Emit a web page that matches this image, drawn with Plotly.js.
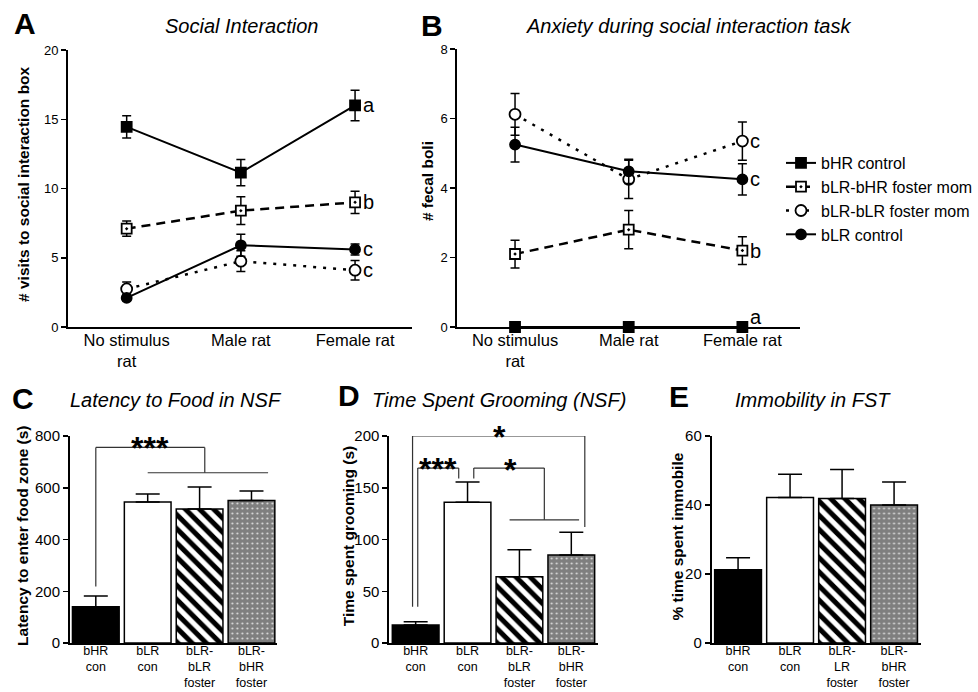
<!DOCTYPE html>
<html><head><meta charset="utf-8">
<script src="https://cdn.plot.ly/plotly-3.0.1.min.js"></script>
<style>html,body{margin:0;padding:0;background:#fff}#chart{width:978px;height:692px}</style>
</head><body><div id="chart"></div>
<script>
// ---------- DATA ----------
const lineCats = ["No stimulus<br>rat", "Male rat", "Female rat"];
const seriesNames = ["bHR control", "bLR-bHR foster mom", "bLR-bLR foster mom", "bLR control"];

// Panel A: # visits to social interaction box
const socialBHR = [14.45, 11.15, 16.0];
const socialBHRerr = [0.8, 0.95, 1.1];
const socialFosterBHR = [7.1, 8.4, 9.0];
const socialFosterBHRerr = [0.55, 1.0, 0.8];
const socialFosterBLR = [2.75, 4.75, 4.1];
const socialFosterBLRerr = [0.5, 0.75, 0.7];
const socialBLR = [2.1, 5.9, 5.6];
const socialBLRerr = [0.2, 0.8, 0.4];
const socialLetters = ["a", "b", "c", "c"];

// Panel B: # fecal boli
const boliBHR = [0, 0, 0];
const boliBHRerr = [0, 0, 0];
const boliFosterBHR = [2.1, 2.8, 2.2];
const boliFosterBHRerr = [0.4, 0.55, 0.4];
const boliFosterBLR = [6.12, 4.25, 5.35];
const boliFosterBLRerr = [0.6, 0.55, 0.55];
const boliBLR = [5.25, 4.48, 4.25];
const boliBLRerr = [0.5, 0.35, 0.45];
const boliLetters = ["a", "b", "c", "c"];

// Bar panels
const barCats = ["bHR<br>con", "bLR<br>con", "bLR-<br>bLR<br>foster", "bLR-<br>bHR<br>foster"];
const barCatsE = ["bHR<br>con", "bLR<br>con", "bLR-<br>LR<br>foster", "bLR-<br>bHR<br>foster"];
const latency = [140, 545, 518, 551];
const latencyErr = [42, 31, 85, 36];
const grooming = [17.5, 136, 64, 85];
const groomingErr = [3, 19.5, 26, 22];
const immobility = [21.2, 42.2, 41.9, 40.0];
const immobilityErr = [3.5, 6.7, 8.4, 6.7];

// significance brackets: [x0, y0, x1, y1] in category/data units
const sigC = [[0, 218, 0, 756], [0, 756, 2.1, 756], [2.1, 756, 2.1, 658], [1.0, 658, 3.32, 658]];
const sigCText = [{x: 1.04, y: 781, t: "***"}];
const sigD = [[-0.06, 35, -0.06, 200], [-0.06, 200, 3.26, 200], [3.26, 200, 3.26, 112],
              [0.04, 35, 0.04, 169], [0.04, 169, 0.83, 169], [0.83, 169, 0.83, 159],
              [1.12, 159, 1.12, 169], [1.12, 169, 2.48, 169], [2.48, 169, 2.48, 119],
              [1.81, 119, 3.15, 119]];
const sigDText = [{x: 1.61, y: 199, t: "*", dy: 0}, {x: 0.43, y: 175, t: "***", dy: -7}, {x: 1.83, y: 174, t: "*", dy: -7}];

// ---------- HELPERS ----------
const W = 978, H = 692;
const px = v => v / W;
const py = v => 1 - v / H;
const FONT = "Liberation Sans, Arial, Helvetica, sans-serif";

const styles = [
  {symbol: 'square', color: '#000', dash: 'solid', size: 10, lw: 2},
  {symbol: 'square-dot', color: '#fff', dash: '9px,6px', size: 10, lw: 2.5},
  {symbol: 'circle', color: '#fff', dash: '3px,7px', size: 11, lw: 2.5},
  {symbol: 'circle', color: '#000', dash: 'solid', size: 10, lw: 2}
];

function lineTrace(i, y, err, xa, ya, showleg) {
  const s = styles[i];
  return {
    type: 'scatter', mode: 'lines+markers', name: seriesNames[i], legendgroup: 'g' + i,
    showlegend: showleg, x: [0, 1, 2], y: y, xaxis: xa, yaxis: ya, cliponaxis: false,
    line: {color: '#000', width: s.lw, dash: s.dash},
    marker: {symbol: s.symbol, size: s.size, color: s.color, line: {color: '#000', width: 1.8}},
    error_y: {type: 'data', array: err, visible: true, color: '#000', thickness: 1.5, width: 4.5},
    hoverinfo: 'skip'
  };
}

const barStyles = [
  {color: '#000', pattern: {shape: ''}},
  {color: '#fff', pattern: {shape: ''}},
  {color: '#fff', pattern: {shape: '\\', fgcolor: '#000', bgcolor: '#fff', size: 10, solidity: 0.5, fillmode: 'replace'}},
  {color: '#7f7f7f', pattern: {shape: '.', fgcolor: '#dcdcdc', bgcolor: '#7f7f7f', size: 5, solidity: 0.14, fillmode: 'replace'}}
];

function barTraces(vals, errs, xa, ya) {
  return vals.map((v, i) => ({
    type: 'bar', x: [i], y: [v], xaxis: xa, yaxis: ya, width: 0.9, showlegend: false,
    marker: {color: barStyles[i].color, line: {color: '#000', width: 1.5}, pattern: barStyles[i].pattern},
    error_y: {type: 'data', symmetric: false, array: [errs[i]], arrayminus: [0],
              color: '#000', thickness: 1.5, width: 12},
    hoverinfo: 'skip'
  }));
}

function yax(dom, range, dtick, anchor, fs) {
  return {domain: dom, range: range, dtick: dtick, tick0: 0, anchor: anchor, showline: true,
    linecolor: '#000', linewidth: 1.8, ticks: 'outside', ticklen: 5, tickwidth: 1.5, tickcolor: '#000',
    showgrid: false, zeroline: false, tickfont: {size: fs, color: '#000', family: FONT}, fixedrange: true};
}
function xax(dom, range, tickvals, ticktext, anchor, fs, standoff) {
  return {domain: dom, range: range, tickvals: tickvals, ticktext: ticktext, anchor: anchor,
    showline: true, linecolor: '#000', linewidth: 1.8, ticks: '', showgrid: false, zeroline: false,
    ticklabelstandoff: standoff,
    tickfont: {size: fs, color: '#000', family: FONT}, fixedrange: true};
}

// ---------- TRACES ----------
const traces = [];
const aSeries = [[socialBHR, socialBHRerr], [socialFosterBHR, socialFosterBHRerr],
                 [socialFosterBLR, socialFosterBLRerr], [socialBLR, socialBLRerr]];
const bSeries = [[boliBHR, boliBHRerr], [boliFosterBHR, boliFosterBHRerr],
                 [boliFosterBLR, boliFosterBLRerr], [boliBLR, boliBLRerr]];
aSeries.forEach((s, i) => traces.push(lineTrace(i, s[0], s[1], 'x', 'y', true)));
bSeries.forEach((s, i) => traces.push(lineTrace(i, s[0], s[1], 'x2', 'y2', false)));
traces.push(...barTraces(latency, latencyErr, 'x3', 'y3'));
traces.push(...barTraces(grooming, groomingErr, 'x4', 'y4'));
traces.push(...barTraces(immobility, immobilityErr, 'x5', 'y5'));

// ---------- ANNOTATIONS ----------
const ann = [];
function paperText(x, y, text, size, opts) {
  ann.push(Object.assign({xref: 'paper', yref: 'paper', x: px(x), y: py(y), text: text,
    showarrow: false, xanchor: 'center', yanchor: 'middle',
    font: {family: FONT, size: size, color: '#000'}}, opts || {}));
}
// panel letters
[["A", 25, 24], ["B", 433, 25], ["C", 23, 398], ["D", 350, 395], ["E", 680, 397]].forEach(l =>
  paperText(l[1], l[2], "<b>" + l[0] + "</b>", 30));
// titles
paperText(242, 26, "<i>Social Interaction</i>", 20);
paperText(690, 26, "<i>Anxiety during social interaction task</i>", 20);
paperText(176, 400, "<i>Latency to Food in NSF</i>", 20);
paperText(500, 400, "<i>Time Spent Grooming (NSF)</i>", 20);
paperText(815, 400, "<i>Immobility in FST</i>", 20);
// y titles
paperText(24, 184, "<b># visits to social interaction box</b>", 15.5, {textangle: -90});
paperText(428, 181, "<b># fecal boli</b>", 15.5, {textangle: -90});
paperText(22, 536, "<b>Latency to enter food zone (s)</b>", 15.5, {textangle: -90});
paperText(349, 536, "<b>Time spent grooming (s)</b>", 15.5, {textangle: -90});
paperText(678, 537, "<b>% time spent immobile</b>", 15.5, {textangle: -90});

// group letters
aSeries.forEach((s, i) => ann.push({xref: 'x', yref: 'y', x: 2, y: s[0][2], text: socialLetters[i],
  showarrow: false, xanchor: 'left', yanchor: 'middle', xshift: 6,
  font: {family: FONT, size: 20, color: '#000'}}));
bSeries.forEach((s, i) => ann.push({xref: 'x2', yref: 'y2', x: 2, y: s[0][2], text: boliLetters[i],
  showarrow: false, xanchor: 'left', yanchor: 'middle', xshift: 6, yshift: i === 0 ? 10 : 0,
  font: {family: FONT, size: 20, color: '#000'}}));

// asterisks
function stars(list, xa, ya) {
  list.forEach(s => ann.push({xref: xa, yref: ya, x: s.x, y: s.y, text: '<b>' + s.t + '</b>',
    showarrow: false, xanchor: 'center', yanchor: 'middle', yshift: (s.dy === undefined ? -7 : s.dy),
    font: {family: FONT, size: 32, color: '#000'}}));
}
stars(sigCText, 'x3', 'y3');
stars(sigDText, 'x4', 'y4');

// ---------- SHAPES ----------
const shapes = [];
function brackets(list, xa, ya) {
  list.forEach(b => shapes.push({type: 'line', xref: xa, yref: ya, x0: b[0], y0: b[1], x1: b[2], y1: b[3],
    line: {color: '#333', width: 1.2}}));
}
brackets(sigC, 'x3', 'y3');
brackets(sigD, 'x4', 'y4');

// ---------- LAYOUT ----------
const layout = {
  width: W, height: H, margin: {l: 0, r: 0, t: 0, b: 0},
  paper_bgcolor: '#fff', plot_bgcolor: 'rgba(0,0,0,0)',
  font: {family: FONT, color: '#000'},
  barmode: 'overlay',
  xaxis: xax([px(68), px(413)], [-0.515, 2.5], [0, 1, 2], lineCats, 'y', 16.5, -3),
  yaxis: yax([py(327), py(50)], [0, 20], 5, 'x', 13),
  xaxis2: xax([px(458), px(802)], [-0.51, 2.51], [0, 1, 2], lineCats, 'y2', 16.5, -3),
  yaxis2: yax([py(327), py(49)], [0, 8], 2, 'x2', 13),
  xaxis3: xax([px(70), px(278)], [-0.5, 3.5], [0, 1, 2, 3], barCats, 'y3', 12.5, -5),
  yaxis3: yax([py(643), py(436)], [0, 800], 200, 'x3', 15),
  xaxis4: xax([px(390), px(599)], [-0.51, 3.51], [0, 1, 2, 3], barCats, 'y4', 12.5, -5),
  yaxis4: yax([py(643), py(436)], [0, 200], 50, 'x4', 15),
  xaxis5: xax([px(713), px(923)], [-0.51, 3.52], [0, 1, 2, 3], barCatsE, 'y5', 12.5, -5),
  yaxis5: yax([py(643), py(436)], [0, 60], 20, 'x5', 15),
  showlegend: true,
  legend: {x: px(783), y: py(146), xanchor: 'left', yanchor: 'top', bgcolor: 'rgba(0,0,0,0)',
           font: {family: FONT, size: 16, color: '#000'}, itemwidth: 30, tracegroupgap: 0},
  annotations: ann, shapes: shapes
};

Plotly.newPlot('chart', traces, layout, {displayModeBar: false, staticPlot: true});
</script></body></html>
